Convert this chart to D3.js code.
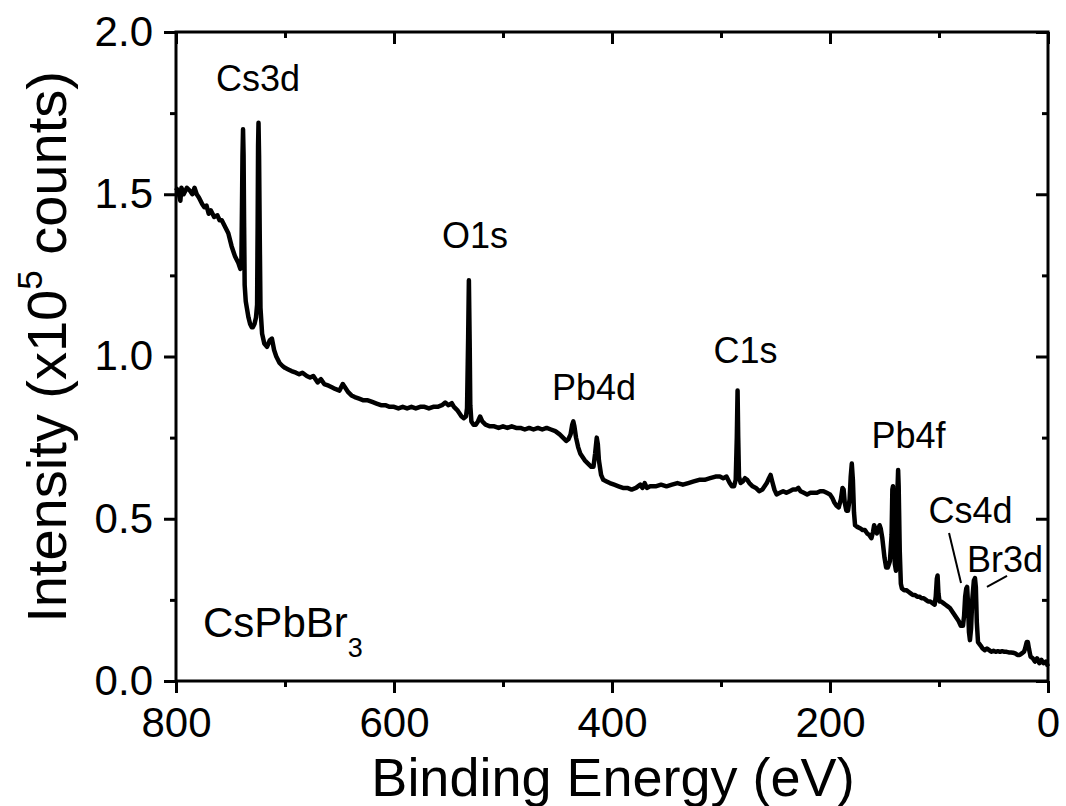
<!DOCTYPE html>
<html>
<head>
<meta charset="utf-8">
<script src="https://cdn.jsdelivr.net/npm/d3@7"></script>
<style>
  body { margin: 0; background: #fff; }
  text { font-family: "Liberation Sans", Arial, sans-serif; fill: #000; }
</style>
</head>
<body>
<div id="chart"></div>
<script>
// binding energy (eV) and intensity (x10^5 counts)
const bindingEnergy = [
  800, 798, 796, 795, 793, 790, 787, 785, 783, 781, 779, 776, 774, 772, 770, 768, 765, 762, 760, 758,
  755, 752, 749, 746, 743, 741, 740, 739.5, 739, 738.5, 738, 737.5, 737, 736, 735, 733.5, 732, 730.5, 729.5, 728,
  726.6, 725.6, 725.1, 724.7, 724.3, 723.8, 723.2, 722.5, 721, 719, 716.5, 714, 712, 710, 708, 705, 702, 700, 697, 694,
  690, 687, 684, 680, 677, 674, 670, 667, 664, 660, 657, 654, 650, 647, 645, 642, 639, 636, 632, 628,
  624, 620, 616, 612, 608, 604, 600, 596, 592, 588, 584, 580, 576, 572, 568, 564, 560, 556, 553, 550,
  547, 545, 542, 540, 538, 536, 534, 533, 532, 531.3, 530.6, 530, 529, 527, 525, 523, 521, 519, 516, 512,
  508, 504, 500, 496, 492, 488, 484, 480, 476, 472, 468, 464, 460, 456, 452, 448, 445, 442, 440, 438,
  436.5, 435.5, 434.5, 433, 431, 429, 427, 425, 422, 419, 417, 415.5, 414, 413, 412, 410, 408, 405, 402, 398,
  394, 390, 386, 382, 378, 374, 372, 370, 368, 365, 360, 355, 350, 345, 340, 335, 330, 325, 320, 315,
  310, 305, 301, 298, 295, 292, 290, 288, 286.5, 285.5, 284.8, 284.2, 283.5, 282, 280, 278, 276, 274, 271, 268,
  265, 262, 260, 258, 256, 254.5, 253, 251, 249, 246, 243, 240, 237, 234, 231, 229, 227, 224, 221, 218,
  215, 212, 209, 206, 203, 200, 198, 196, 194, 192, 190, 188.5, 187.5, 186.5, 185, 183.5, 182, 181, 180, 179,
  178, 177, 175, 172, 170, 168, 166, 164, 162, 160.5, 159.5, 158.5, 157, 155.5, 154.5, 153.5, 152, 150, 148.5, 147,
  145, 143.5, 142.8, 142.2, 141.5, 140.5, 139.5, 138.5, 138, 137.5, 137, 136, 135, 134, 132, 130, 128, 126, 124, 122,
  120, 118, 116, 114, 112, 110, 108, 106, 104, 103, 102, 101.3, 100.5, 99.5, 98, 96, 94, 92, 90, 88,
  86, 84, 82, 80, 78, 77, 76, 75, 74.2, 73.4, 72.5, 71.6, 70.6, 69.5, 68, 67, 66.2, 65.3, 64.2, 62,
  60, 58, 56, 54, 52, 50, 48, 46, 44, 42, 40, 38, 36, 34, 32, 30, 28, 26, 24, 22,
  21, 19.5, 18.5, 17.5, 16, 14, 12, 10, 8, 6, 4, 2, 0
];
const intensity = [
  1.52, 1.51, 1.48, 1.52, 1.50, 1.52, 1.51, 1.50, 1.52, 1.50, 1.49, 1.47, 1.46, 1.465, 1.44, 1.45, 1.43, 1.435, 1.42, 1.42,
  1.40, 1.38, 1.34, 1.31, 1.29, 1.27, 1.29, 1.45, 1.62, 1.70, 1.62, 1.40, 1.22, 1.17, 1.15, 1.12, 1.10, 1.09, 1.09, 1.10,
  1.12, 1.16, 1.40, 1.65, 1.72, 1.62, 1.38, 1.15, 1.07, 1.04, 1.03, 1.05, 1.055, 1.02, 1.00, 0.98, 0.97, 0.965, 0.96, 0.955,
  0.95, 0.945, 0.95, 0.94, 0.935, 0.94, 0.92, 0.93, 0.915, 0.91, 0.905, 0.90, 0.895, 0.915, 0.905, 0.89, 0.88, 0.875, 0.87, 0.865,
  0.865, 0.86, 0.855, 0.85, 0.85, 0.845, 0.845, 0.84, 0.845, 0.84, 0.845, 0.84, 0.845, 0.845, 0.84, 0.845, 0.845, 0.85, 0.858, 0.85,
  0.856, 0.845, 0.835, 0.825, 0.815, 0.81, 0.815, 0.84, 1.05, 1.235, 1.05, 0.85, 0.80, 0.79, 0.79, 0.80, 0.815, 0.80, 0.79, 0.785,
  0.785, 0.78, 0.785, 0.78, 0.785, 0.78, 0.78, 0.775, 0.78, 0.775, 0.78, 0.775, 0.78, 0.775, 0.77, 0.76, 0.75, 0.74, 0.745, 0.76,
  0.79, 0.80, 0.785, 0.75, 0.72, 0.70, 0.69, 0.68, 0.67, 0.66, 0.66, 0.70, 0.75, 0.73, 0.68, 0.635, 0.62, 0.615, 0.61, 0.605,
  0.60, 0.595, 0.595, 0.59, 0.595, 0.605, 0.595, 0.61, 0.595, 0.60, 0.60, 0.605, 0.60, 0.605, 0.61, 0.605, 0.61, 0.615, 0.62, 0.62,
  0.625, 0.63, 0.63, 0.625, 0.63, 0.61, 0.60, 0.60, 0.62, 0.75, 0.895, 0.75, 0.63, 0.61, 0.615, 0.625, 0.62, 0.61, 0.60, 0.595,
  0.585, 0.59, 0.60, 0.61, 0.625, 0.635, 0.615, 0.59, 0.575, 0.58, 0.585, 0.58, 0.585, 0.59, 0.59, 0.595, 0.585, 0.58, 0.575, 0.58,
  0.58, 0.58, 0.585, 0.585, 0.58, 0.575, 0.565, 0.55, 0.54, 0.535, 0.56, 0.595, 0.59, 0.55, 0.525, 0.525, 0.56, 0.63, 0.67, 0.62,
  0.52, 0.48, 0.475, 0.47, 0.465, 0.465, 0.455, 0.45, 0.44, 0.46, 0.48, 0.47, 0.455, 0.47, 0.48, 0.47, 0.44, 0.38, 0.35, 0.35,
  0.37, 0.45, 0.59, 0.60, 0.45, 0.36, 0.34, 0.45, 0.60, 0.65, 0.60, 0.40, 0.30, 0.285, 0.28, 0.28, 0.275, 0.27, 0.265, 0.265,
  0.26, 0.26, 0.255, 0.255, 0.25, 0.245, 0.245, 0.24, 0.235, 0.26, 0.315, 0.325, 0.27, 0.245, 0.245, 0.24, 0.235, 0.23, 0.225, 0.215,
  0.205, 0.195, 0.185, 0.17, 0.17, 0.20, 0.26, 0.285, 0.29, 0.24, 0.15, 0.126, 0.16, 0.25, 0.31, 0.317, 0.29, 0.18, 0.12, 0.11,
  0.10, 0.095, 0.10, 0.095, 0.09, 0.093, 0.09, 0.092, 0.09, 0.092, 0.09, 0.09, 0.088, 0.088, 0.087, 0.085, 0.08, 0.08, 0.085, 0.09,
  0.10, 0.12, 0.12, 0.10, 0.075, 0.07, 0.06, 0.07, 0.055, 0.065, 0.055, 0.06, 0.045
];

const xMajor = [800, 600, 400, 200, 0];
const xMinor = [700, 500, 300, 100];
const yMajor = [0, 0.5, 1.0, 1.5, 2.0];
const yMinor = [0.25, 0.75, 1.25, 1.75];

// peak labels: text, energy, intensity of the baseline
const peakNames = ["Cs3d", "O1s", "Pb4d", "C1s", "Pb4f", "Cs4d", "Br3d"];
const peakLabelX = [724.8, 525.7, 416.5, 277.5, 128, 71.1, 39.4];
const peakLabelY = [1.818, 1.334, 0.866, 0.98, 0.718, 0.487, 0.336];

// leader lines for Cs4d and Br3d: [x1, y1, x2, y2]
const leaders = [[90.8, 0.456, 79.8, 0.302], [56.0, 0.29, 37.6, 0.324]];

const margin = {top: 32, right: 18, bottom: 125, left: 176},
    width = 1066 - margin.left - margin.right,
    height = 806 - margin.top - margin.bottom;

const svg = d3.select("#chart")
  .append("svg")
    .attr("width", 1066)
    .attr("height", 806)
  .append("g")
    .attr("transform", `translate(${margin.left},${margin.top})`);

const x = d3.scaleLinear().domain([800, 0]).range([0, width]);
const y = d3.scaleLinear().domain([0, 2]).range([height, 0]);

function styleAxis(g, fontSize) {
  g.select(".domain").remove();
  g.selectAll("line").attr("stroke", "#000").attr("stroke-width", 3);
  g.selectAll("text").style("font-size", fontSize + "px")
    .style("font-family", '"Liberation Sans", Arial, sans-serif');
}

// bottom (outward ticks) with labels
svg.append("g")
  .attr("transform", `translate(0,${height})`)
  .call(d3.axisBottom(x).tickValues(xMajor).tickSize(12).tickPadding(14).tickFormat(d3.format("d")))
  .call(g => styleAxis(g, 42));
svg.append("g")
  .attr("transform", `translate(0,${height})`)
  .call(d3.axisBottom(x).tickValues(xMinor).tickSize(6).tickFormat(""))
  .call(g => styleAxis(g, 0));

// top (inward ticks)
svg.append("g")
  .call(d3.axisTop(x).tickValues(xMajor).tickSize(-12).tickFormat(""))
  .call(g => styleAxis(g, 0));
svg.append("g")
  .call(d3.axisTop(x).tickValues(xMinor).tickSize(-6).tickFormat(""))
  .call(g => styleAxis(g, 0));

// left (outward) with labels
svg.append("g")
  .call(d3.axisLeft(y).tickValues(yMajor).tickSize(12).tickPadding(11).tickFormat(d3.format(".1f")))
  .call(g => styleAxis(g, 42));
svg.append("g")
  .call(d3.axisLeft(y).tickValues(yMinor).tickSize(6).tickFormat(""))
  .call(g => styleAxis(g, 0));

// right (inward)
svg.append("g")
  .attr("transform", `translate(${width},0)`)
  .call(d3.axisRight(y).tickValues(yMajor).tickSize(-12).tickFormat(""))
  .call(g => styleAxis(g, 0));
svg.append("g")
  .attr("transform", `translate(${width},0)`)
  .call(d3.axisRight(y).tickValues(yMinor).tickSize(-6).tickFormat(""))
  .call(g => styleAxis(g, 0));

// frame
svg.append("rect")
  .attr("width", width)
  .attr("height", height)
  .attr("fill", "none")
  .attr("stroke", "#000")
  .attr("stroke-width", 3);

// spectrum
const spectrum = bindingEnergy.map((e, i) => ({e: e, v: intensity[i]}));
svg.append("path")
  .datum(spectrum)
  .attr("fill", "none")
  .attr("stroke", "#000")
  .attr("stroke-width", 4.5)
  .attr("stroke-linejoin", "round")
  .attr("d", d3.line()
    .x(d => x(d.e))
    .y(d => y(d.v)));

// peak labels
svg.selectAll(".peak")
  .data(peakNames)
  .enter()
  .append("text")
    .attr("class", "peak")
    .attr("x", (d, i) => x(peakLabelX[i]))
    .attr("y", (d, i) => y(peakLabelY[i]))
    .attr("text-anchor", "middle")
    .style("font-size", "36px")
    .text(d => d);

svg.selectAll(".leader")
  .data(leaders)
  .enter()
  .append("line")
    .attr("x1", d => x(d[0]))
    .attr("y1", d => y(d[1]))
    .attr("x2", d => x(d[2]))
    .attr("y2", d => y(d[3]))
    .attr("stroke", "#000")
    .attr("stroke-width", 2);

// sample name
const sample = svg.append("text")
  .attr("x", x(775.2))
  .attr("y", y(0.136))
  .style("font-size", "42px");
sample.append("tspan").text("CsPbBr");
sample.append("tspan").attr("dy", 20).style("font-size", "27px").text("3");

// axis titles
svg.append("text")
  .attr("x", width / 2 + 1)
  .attr("y", height + 115)
  .attr("text-anchor", "middle")
  .style("font-size", "54px")
  .text("Binding Energy (eV)");

const yTitle = svg.append("text")
  .attr("transform", `translate(${66 - margin.left},${347 - margin.top}) rotate(-90)`)
  .attr("text-anchor", "middle")
  .style("font-size", "56px");
yTitle.append("tspan").text("Intensity (x10");
yTitle.append("tspan").attr("dy", -24).style("font-size", "35px").text("5");
yTitle.append("tspan").attr("dy", 24).text(" counts)");
</script>
</body>
</html>
